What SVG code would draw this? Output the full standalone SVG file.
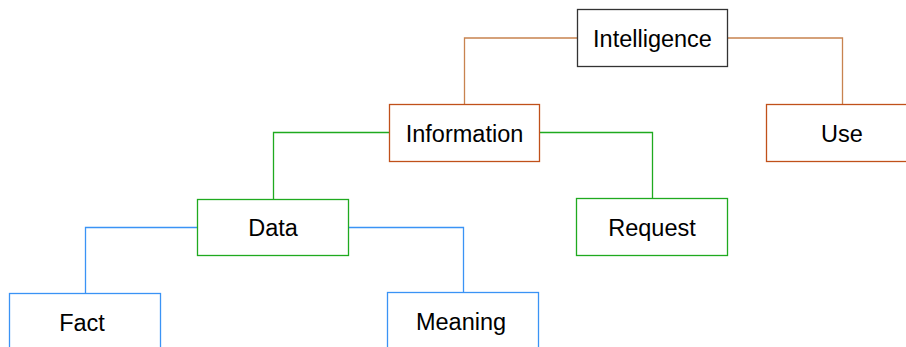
<svg xmlns="http://www.w3.org/2000/svg" width="906" height="347" viewBox="0 0 906 347">
<style>
.box{fill:#fff;stroke-width:1.3}
.c{fill:none;stroke-width:1.3}
text{font-family:"Liberation Sans",Arial,sans-serif;font-size:23.5px;fill:#000;text-anchor:middle}
</style>
<rect width="906" height="347" fill="#fff"/>
<g id="connectors">
<polyline class="c" stroke="#c8834f" points="577.5,38 464.5,38 464.5,104.5"/>
<polyline class="c" stroke="#c8834f" points="727.5,38 842.5,38 842.5,104.5"/>
<polyline class="c" stroke="#1faa1f" points="389.5,132.5 273.5,132.5 273.5,199.5"/>
<polyline class="c" stroke="#1faa1f" points="539.5,132.5 652.5,132.5 652.5,198.5"/>
<polyline class="c" stroke="#3a93f5" points="197.5,227.5 85.5,227.5 85.5,293.5"/>
<polyline class="c" stroke="#3a93f5" points="348.5,227.5 463.5,227.5 463.5,292.5"/>
</g>
<g id="intelligence"><rect class="box" stroke="#333" x="577.5" y="9.5" width="150" height="57"/><text x="652.5" y="46.5">Intelligence</text></g>
<g id="information"><rect class="box" stroke="#c0501a" x="389.5" y="104.5" width="150" height="57"/><text x="464.5" y="141.5">Information</text></g>
<g id="use"><rect class="box" stroke="#c0501a" x="766.5" y="104.5" width="150" height="57"/><text x="842" y="141.5">Use</text></g>
<g id="data"><rect class="box" stroke="#1faa1f" x="197.5" y="199.5" width="151" height="56"/><text x="273" y="236">Data</text></g>
<g id="request"><rect class="box" stroke="#1faa1f" x="576.5" y="198.5" width="151" height="57"/><text x="652" y="235.5">Request</text></g>
<g id="fact"><rect class="box" stroke="#3a93f5" x="9.5" y="293.5" width="151" height="57"/><text x="82" y="330.5">Fact</text></g>
<g id="meaning"><rect class="box" stroke="#3a93f5" x="387.5" y="292.5" width="151" height="57"/><text x="461" y="330">Meaning</text></g>
</svg>
